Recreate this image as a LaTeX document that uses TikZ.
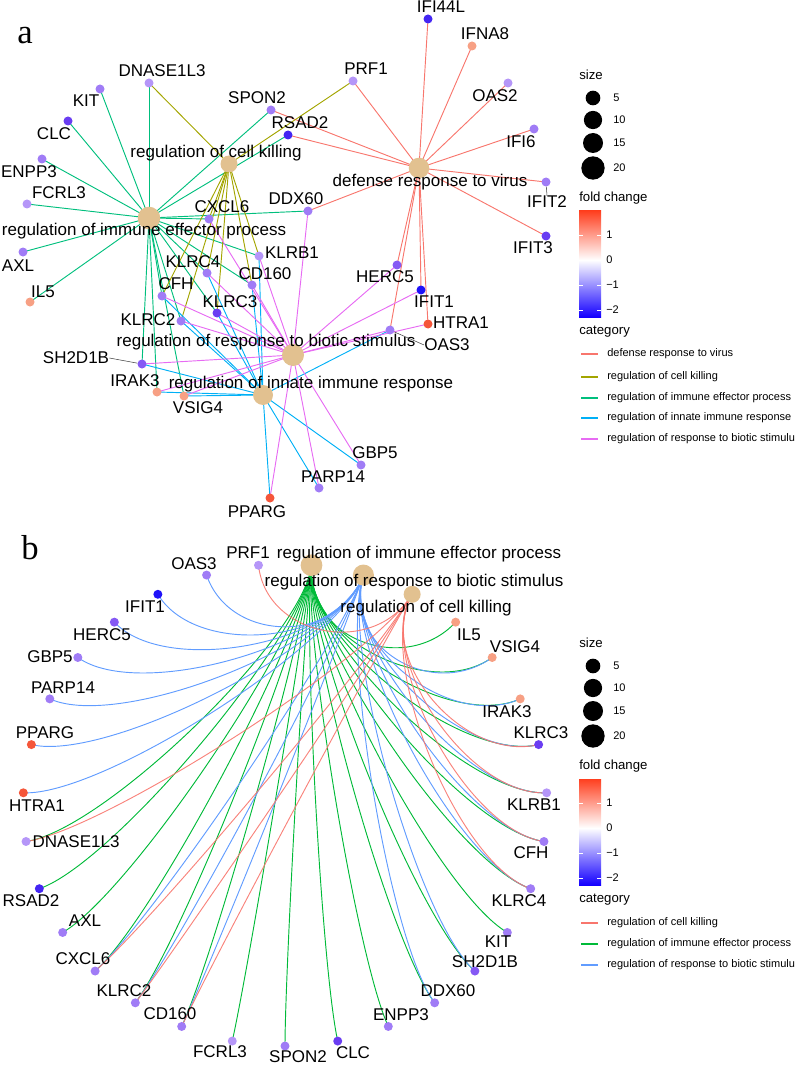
\documentclass[tikz,border=0pt]{standalone}
\usepackage{fontspec}
\setmainfont{Liberation Sans}
\newfontfamily\panelfont{Liberation Serif}
\usetikzlibrary{calc}
\definecolor{catDRV}{HTML}{F8766D}
\definecolor{catCK}{HTML}{A3A500}
\definecolor{catIEP}{HTML}{00BF7D}
\definecolor{catIIR}{HTML}{00B0F6}
\definecolor{catRBS}{HTML}{E76BF3}
\definecolor{catCKb}{HTML}{F8766D}
\definecolor{catIEPb}{HTML}{00BA38}
\definecolor{catRBSb}{HTML}{619CFF}
\definecolor{termTan}{HTML}{E2C190}
\definecolor{fcLight}{HTML}{B596F8}
\definecolor{fcMid}{HTML}{A07CF6}
\definecolor{fcPurple}{HTML}{8559F4}
\definecolor{fcDeep}{HTML}{6A3DF2}
\definecolor{fcBlue}{HTML}{4426F3}
\definecolor{fcPure}{HTML}{1F12F9}
\definecolor{fcSalmon}{HTML}{F7A084}
\definecolor{fcRed}{HTML}{F5563A}
\definecolor{fcHigh}{HTML}{FF3F1F}
\definecolor{fcLow}{HTML}{1400FF}
\pgfdeclarelayer{edges}
\pgfsetlayers{edges,main}

% curved edge of the circular panel, both ends pulled toward (ctr)
\newcommand\arcedge[3]{%
  \draw[#1] (#2.center) .. controls ($(#2.center)!0.3!(ctr)$) and ($(#3.center)!0.3!(ctr)$) .. (#3.center);
}

\begin{document}
\begin{tikzpicture}[x=0.75pt, y=-0.75pt,
  gene/.style={circle, inner sep=0pt, minimum size=6.75pt},
  term/.style={circle, inner sep=0pt, fill=termTan},
  lab/.style={font=\fontsize{12.75}{14}\selectfont, inner sep=0pt},
  edge/.style={line width=0.7pt},
  leader/.style={draw=black!75, line width=0.4pt},
  legtitle/.style={font=\fontsize{9.9}{11}\selectfont, anchor=west, inner sep=0pt},
  legtext/.style={font=\fontsize{8.25}{9}\selectfont, anchor=west, inner sep=0pt},
  sizedot/.style={circle, fill=black, inner sep=0pt},
  tag/.style={font=\panelfont\fontsize{26}{26}\selectfont, inner sep=0pt}
]
\useasboundingbox (0,0) rectangle (798,1066);

% ---------------- panel a
\node[tag] (tagA) at (25,36) {a};
\node[term, minimum size=12.75pt] (aCK) at (229,164) {};
\node[term, minimum size=16.9pt] (aIEP) at (149,218) {};
\node[term, minimum size=15.4pt] (aDRV) at (419,168) {};
\node[term, minimum size=16.5pt] (aRBS) at (293,355) {};
\node[term, minimum size=15pt] (aIIR) at (263,395) {};

\foreach \g/\x/\y/\c/\lx/\ly in {
  DNASE1L3/149/83/fcLight/162/71, KIT/100/89/fcMid/86/101, CLC/68/121/fcDeep/54/134,
  ENPP3/42/159/fcMid/29/172, FCRL3/27/204/fcLight/59/193, AXL/23/252/fcMid/18/266,
  IL5/30/302/fcSalmon/43/292, SPON2/271/110/fcMid/257/98, PRF1/353/81/fcLight/366/69,
  RSAD2/288/135/fcBlue/300/123, CXCL6/209/219/fcMid/222/207, DDX60/308/211/fcMid/296/199,
  KLRB1/259/256/fcLight/292/253, KLRC4/207/273/fcMid/193/262, CD160/252/285/fcMid/265/274,
  CFH/162/296/fcMid/176/284, KLRC3/217/313/fcDeep/230/302, KLRC2/181/321/fcMid/148/320,
  SH2D1B/142/364/fcPurple/76/358, IRAK3/157/392/fcSalmon/135/381, VSIG4/184/396/fcSalmon/198/408,
  GBP5/361/465/fcMid/375/453, PARP14/319/488/fcMid/333/477, PPARG/270/498/fcRed/257/512,
  HERC5/397/265/fcPurple/385/277, IFIT1/421/290/fcPure/434/302, HTRA1/428/324/fcRed/461/323,
  OAS3/390/330/fcMid/447/345, IFI44L/428/19/fcBlue/441/7, IFNA8/472/46/fcSalmon/485/34,
  OAS2/508/83/fcLight/495/96, IFI6/534/129/fcMid/521/142, IFIT2/546/182/fcMid/547/202,
  IFIT3/546/236/fcDeep/533/248}
{
  \node[gene, fill=\c] (a\g) at (\x,\y) {};
  \node[lab] (a\g-lab) at (\lx,\ly) {\g};
}

\node[lab] (aCK-lab) at (216,153) {regulation of cell killing};
\node[lab] (aIEP-lab) at (144,231) {regulation of immune effector process};
\node[lab] (aDRV-lab) at (430,182) {defense response to virus};
\node[lab] (aRBS-lab) at (266,342) {regulation of response to biotic stimulus};
\node[lab] (aIIR-lab) at (311,384) {regulation of innate immune response};

\draw[leader] (aSH2D1B-lab.east) -- (aSH2D1B);
\draw[leader] (aOAS3) -- (aOAS3-lab.west);
\draw[leader] (aIFIT2) -- (aIFIT2-lab.north);

\begin{pgfonlayer}{edges}
\foreach \g in {IFI44L,IFNA8,OAS2,IFI6,IFIT2,IFIT3,PRF1,RSAD2,SPON2,DDX60,HERC5,IFIT1,HTRA1,OAS3}
  \draw[edge, catDRV] (aDRV.center) -- (a\g.center);
\foreach \g in {DNASE1L3,RSAD2,AXL,CXCL6,KLRC2,CD160,FCRL3,SPON2,CLC,ENPP3,DDX60,SH2D1B,KIT,KLRC4,CFH,KLRB1,KLRC3,IRAK3,VSIG4,IL5}
  \draw[edge, catIEP] (aIEP.center) -- (a\g.center);
\foreach \g in {PRF1,DNASE1L3,CXCL6,KLRC2,CD160,KLRC4,CFH,KLRB1,KLRC3}
  \draw[edge, catCK] (aCK.center) -- (a\g.center);
\foreach \g in {KLRC4,CD160,KLRC3,KLRC2,CFH,KLRB1,SH2D1B,IRAK3,VSIG4,GBP5,PARP14,PPARG,OAS3}
  \draw[edge, catIIR] (aIIR.center) -- (a\g.center);
\foreach \g in {OAS3,IFIT1,HERC5,GBP5,PARP14,PPARG,HTRA1,CXCL6,KLRC2,CD160,DDX60,SH2D1B,KLRC4,CFH,KLRB1,KLRC3,IRAK3,VSIG4}
  \draw[edge, catRBS] (aRBS.center) -- (a\g.center);
\end{pgfonlayer}

% ---------------- panel b
\node[tag] (tagB) at (30,548) {b};
\coordinate (ctr) at (285,805);
\foreach \t/\i/\d in {IEP/0/16.3pt, RBS/1/15.8pt, CK/2/12.75pt}
  \node[term, minimum size=\d] (b\t) at ({285+262*sin((\i+0.5)*360/31)}, {805-241*cos((\i+0.5)*360/31)}) {};

\foreach \g/\i/\c/\lx/\ly in {
  IL5/3/fcSalmon/469/635, VSIG4/4/fcSalmon/515/647, IRAK3/5/fcSalmon/507/712,
  KLRC3/6/fcDeep/541/733, KLRB1/7/fcLight/534/805, CFH/8/fcMid/531/853,
  KLRC4/9/fcMid/519/901, KIT/10/fcMid/498/942, SH2D1B/11/fcPurple/485/962,
  DDX60/12/fcMid/448/991, ENPP3/13/fcMid/401/1015, CLC/14/fcDeep/353/1053,
  SPON2/15/fcMid/298/1057, FCRL3/16/fcLight/220/1052, CD160/17/fcMid/170/1014,
  KLRC2/18/fcMid/124/991, CXCL6/19/fcMid/83/959, AXL/20/fcMid/85/921,
  RSAD2/21/fcBlue/31/901, DNASE1L3/22/fcLight/76/842, HTRA1/23/fcRed/37/806,
  PPARG/24/fcRed/45/733, PARP14/25/fcMid/63/688, GBP5/26/fcMid/50/657,
  HERC5/27/fcPurple/102/635, IFIT1/28/fcPure/145/607, OAS3/29/fcMid/194/564,
  PRF1/30/fcLight/248/553}
{
  \node[gene, fill=\c] (b\g) at ({285+262*sin((\i+0.5)*360/31)}, {805-241*cos((\i+0.5)*360/31)}) {};
  \node[lab] (b\g-lab) at (\lx,\ly) {\g};
}

\node[lab] (bIEP-lab) at (419,554) {regulation of immune effector process};
\node[lab] (bRBS-lab) at (414,582) {regulation of response to biotic stimulus};
\node[lab] (bCK-lab) at (426,608) {regulation of cell killing};

\begin{pgfonlayer}{edges}
\foreach \g in {DNASE1L3,RSAD2,AXL,CXCL6,KLRC2,CD160,FCRL3,SPON2,CLC,ENPP3,DDX60,SH2D1B,KIT,KLRC4,CFH,KLRB1,KLRC3,IRAK3,VSIG4,IL5}
  {\arcedge{edge, catIEPb}{bIEP}{b\g}}
\foreach \g in {OAS3,IFIT1,HERC5,GBP5,PARP14,PPARG,HTRA1,CXCL6,KLRC2,CD160,DDX60,SH2D1B,KLRC4,CFH,KLRB1,KLRC3,IRAK3,VSIG4}
  {\arcedge{edge, catRBSb}{bRBS}{b\g}}
\foreach \g in {PRF1,DNASE1L3,CXCL6,KLRC2,CD160,KLRC4,CFH,KLRB1,KLRC3}
  {\arcedge{edge, catCKb, opacity=0.9}{bCK}{b\g}}
\end{pgfonlayer}

% ---------------- legends
\foreach \oy in {0,568} {
  \node[legtitle] (sizeT\oy) at (579,75+\oy) {size};
  \foreach \v/\y/\d in {5/98/11pt, 10/120/13.7pt, 15/143/15pt, 20/168/17.5pt} {
    \node[sizedot, minimum size=\d] (sz\v-\oy) at (593,\y+\oy) {};
    \node[legtext] (szl\v-\oy) at (613,\y+\oy) {\v};
  }
  \node[legtitle] (foldT\oy) at (579,198+\oy) {fold change};
  \shade[bottom color=fcLow, top color=white] (579,317+\oy) rectangle (601,260+\oy);
  \shade[bottom color=white, top color=fcHigh] (579,260+\oy) rectangle (601,211+\oy);
  \foreach \t/\y in {1/235, 0/260, −1/285, −2/310} {
    \draw[white, line width=0.5pt] (579,\y+\oy) -- (583,\y+\oy) (597,\y+\oy) -- (601,\y+\oy);
    \node[legtext] (tk\y-\oy) at (606,\y+\oy) {\t};
  }
  \node[legtitle] (catT\oy) at (579,332+\oy) {category};
}
\foreach \c/\y/\t in {catDRV/354/defense response to virus, catCK/377/regulation of cell killing,
  catIEP/398/regulation of immune effector process, catIIR/418/regulation of innate immune response,
  catRBS/439/regulation of response to biotic stimulu,
  catCKb/923/regulation of cell killing, catIEPb/944/regulation of immune effector process,
  catRBSb/965/regulation of response to biotic stimulu} {
  \draw[line width=1.1pt, \c] (581,\y) -- (598,\y);
  \node[legtext] (key\y) at (607,\y) {\t};
}
\end{tikzpicture}
\end{document}
